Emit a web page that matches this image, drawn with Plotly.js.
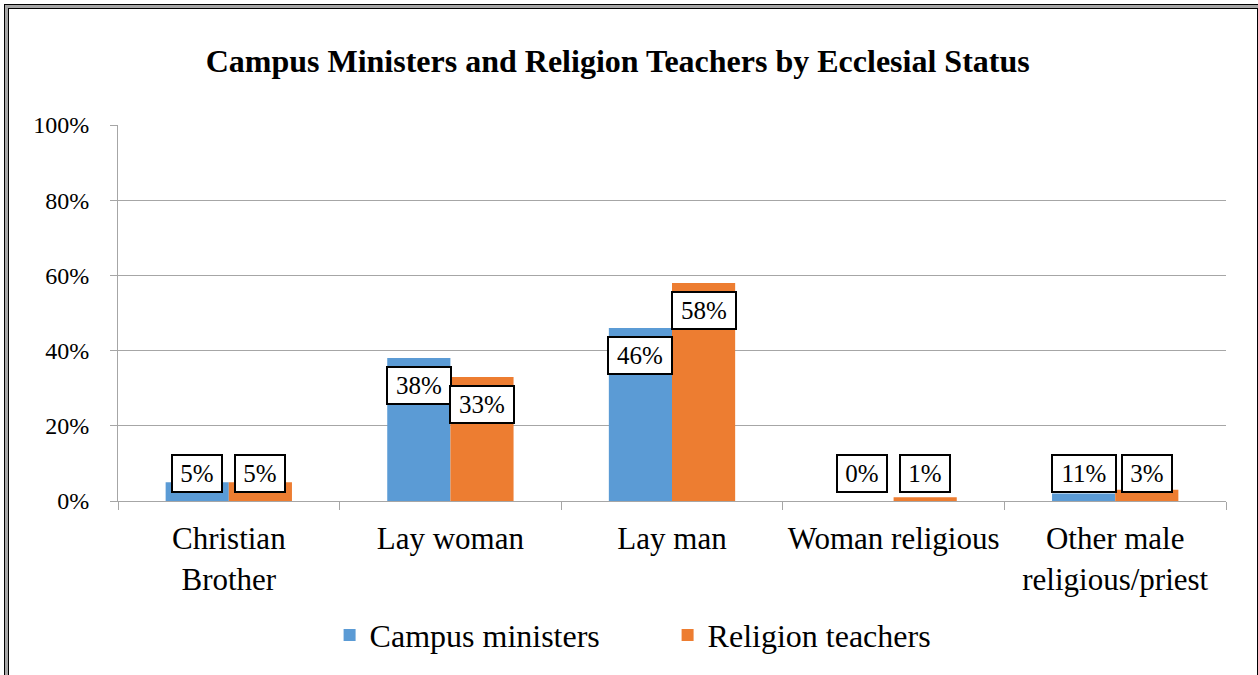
<!DOCTYPE html>
<html>
<head>
<meta charset="utf-8">
<script src="https://cdn.plot.ly/plotly-3.0.1.min.js"></script>
<style>
  html, body { margin: 0; padding: 0; background: #fff; }
  #wrap { position: relative; width: 1258px; height: 675px; overflow: hidden; }
  #chart { position: absolute; left: 0; top: 0; width: 1258px; height: 675px; }
  .f1 { position: absolute; left: 4px; top: 4px; width: 1252px; height: 700px; border-left: 1px solid #000; border-top: 1px solid #000; border-right: 1px solid #000; pointer-events: none; }
  .f2 { position: absolute; left: 5px; top: 5px; width: 1252px; height: 700px; border-left: 3px solid #a6a6a6; border-top: 3px solid #a6a6a6; pointer-events: none; }
  .f3 { position: absolute; left: 8px; top: 8px; width: 1248px; height: 700px; border-left: 1px solid #000; border-top: 1px solid #000; pointer-events: none; }
</style>
</head>
<body>
<div id="wrap">
  <div id="chart"></div>
  <div class="f1"></div>
  <div class="f2"></div>
  <div class="f3"></div>
</div>
<script>
const categories = ["Christian<br>Brother", "Lay woman", "Lay man", "Woman religious", "Other male<br>religious/priest"];
const campusMinisters = [5, 38, 46, 0, 2];
const religionTeachers = [5, 33, 58, 1, 3];
const campusLabels = ["5%", "38%", "46%", "0%", "11%"];
const teacherLabels = ["5%", "33%", "58%", "1%", "3%"];
const yTicks = [0, 20, 40, 60, 80, 100];
const yTickText = ["0%", "20%", "40%", "60%", "80%", "100%"];

const BLUE = "#5B9BD5", ORANGE = "#ED7D31", GRID = "#A6A6A6";
const FONT = "Liberation Serif";

const traces = [
  { type: "bar", name: "Campus ministers", x: categories, y: campusMinisters, marker: { color: BLUE }, hoverinfo: "skip" },
  { type: "bar", name: "Religion teachers", x: categories, y: religionTeachers, marker: { color: ORANGE }, hoverinfo: "skip" }
];

// label boxes
const plotH = 675 - 125 - 174;
const annotations = [];
function addLabels(values, labels, shift) {
  values.forEach((v, i) => {
    const tall = v / 100 * plotH >= 55;
    annotations.push({
      x: categories[i], y: tall ? v : 0, xref: "x", yref: "y",
      text: labels[i], showarrow: false,
      xanchor: "center", yanchor: tall ? "top" : "bottom",
      xshift: shift, yshift: tall ? -8 : 8,
      width: labels[i].length === 2 ? 48 : 62, height: 35,
      bgcolor: "#fff", bordercolor: "#000", borderwidth: 2, borderpad: 0,
      font: { family: FONT, size: 25, color: "#000" }
    });
  });
}
addLabels(campusMinisters, campusLabels, -31.6);
addLabels(religionTeachers, teacherLabels, 31.6);

const layout = {
  width: 1258, height: 675,
  margin: { l: 118, r: 32, t: 125, b: 174 },
  paper_bgcolor: "#fff", plot_bgcolor: "#fff",
  font: { family: FONT, color: "#000" },
  title: {
    text: "<b>Campus Ministers and Religion Teachers by Ecclesial Status</b>",
    font: { family: FONT, size: 32, color: "#000" },
    x: 0.491, xref: "container", xanchor: "center",
    y: 0.91, yref: "container", yanchor: "middle"
  },
  barmode: "group", bargap: 0.43, bargroupgap: 0,
  xaxis: {
    type: "category",
    showline: true, linecolor: GRID, linewidth: 1,
    ticks: "outside", tickson: "boundaries", ticklen: 8, tickcolor: GRID,
    showgrid: false,
    tickangle: 0, automargin: false,
    tickfont: { family: FONT, size: 31, color: "#000" },
    ticklabelstandoff: 10,
    fixedrange: true
  },
  yaxis: {
    range: [0, 100],
    tickvals: yTicks, ticktext: yTickText,
    showline: true, linecolor: GRID, linewidth: 1,
    ticks: "outside", ticklen: 7, tickcolor: GRID,
    showgrid: true, gridcolor: GRID, gridwidth: 1,
    zeroline: false,
    tickfont: { family: FONT, size: 24, color: "#000" },
    ticklabelstandoff: 16,
    fixedrange: true
  },
  showlegend: true,
  legend: {
    orientation: "h",
    x: 0.262, xref: "container", xanchor: "left",
    y: 0.059, yref: "container", yanchor: "middle",
    font: { family: FONT, size: 32, color: "#000" },
    itemwidth: 30,
    entrywidth: 293, entrywidthmode: "pixels"
  },
  annotations: annotations
};

Plotly.newPlot("chart", traces, layout, { staticPlot: true, displayModeBar: false });
</script>
</body>
</html>
